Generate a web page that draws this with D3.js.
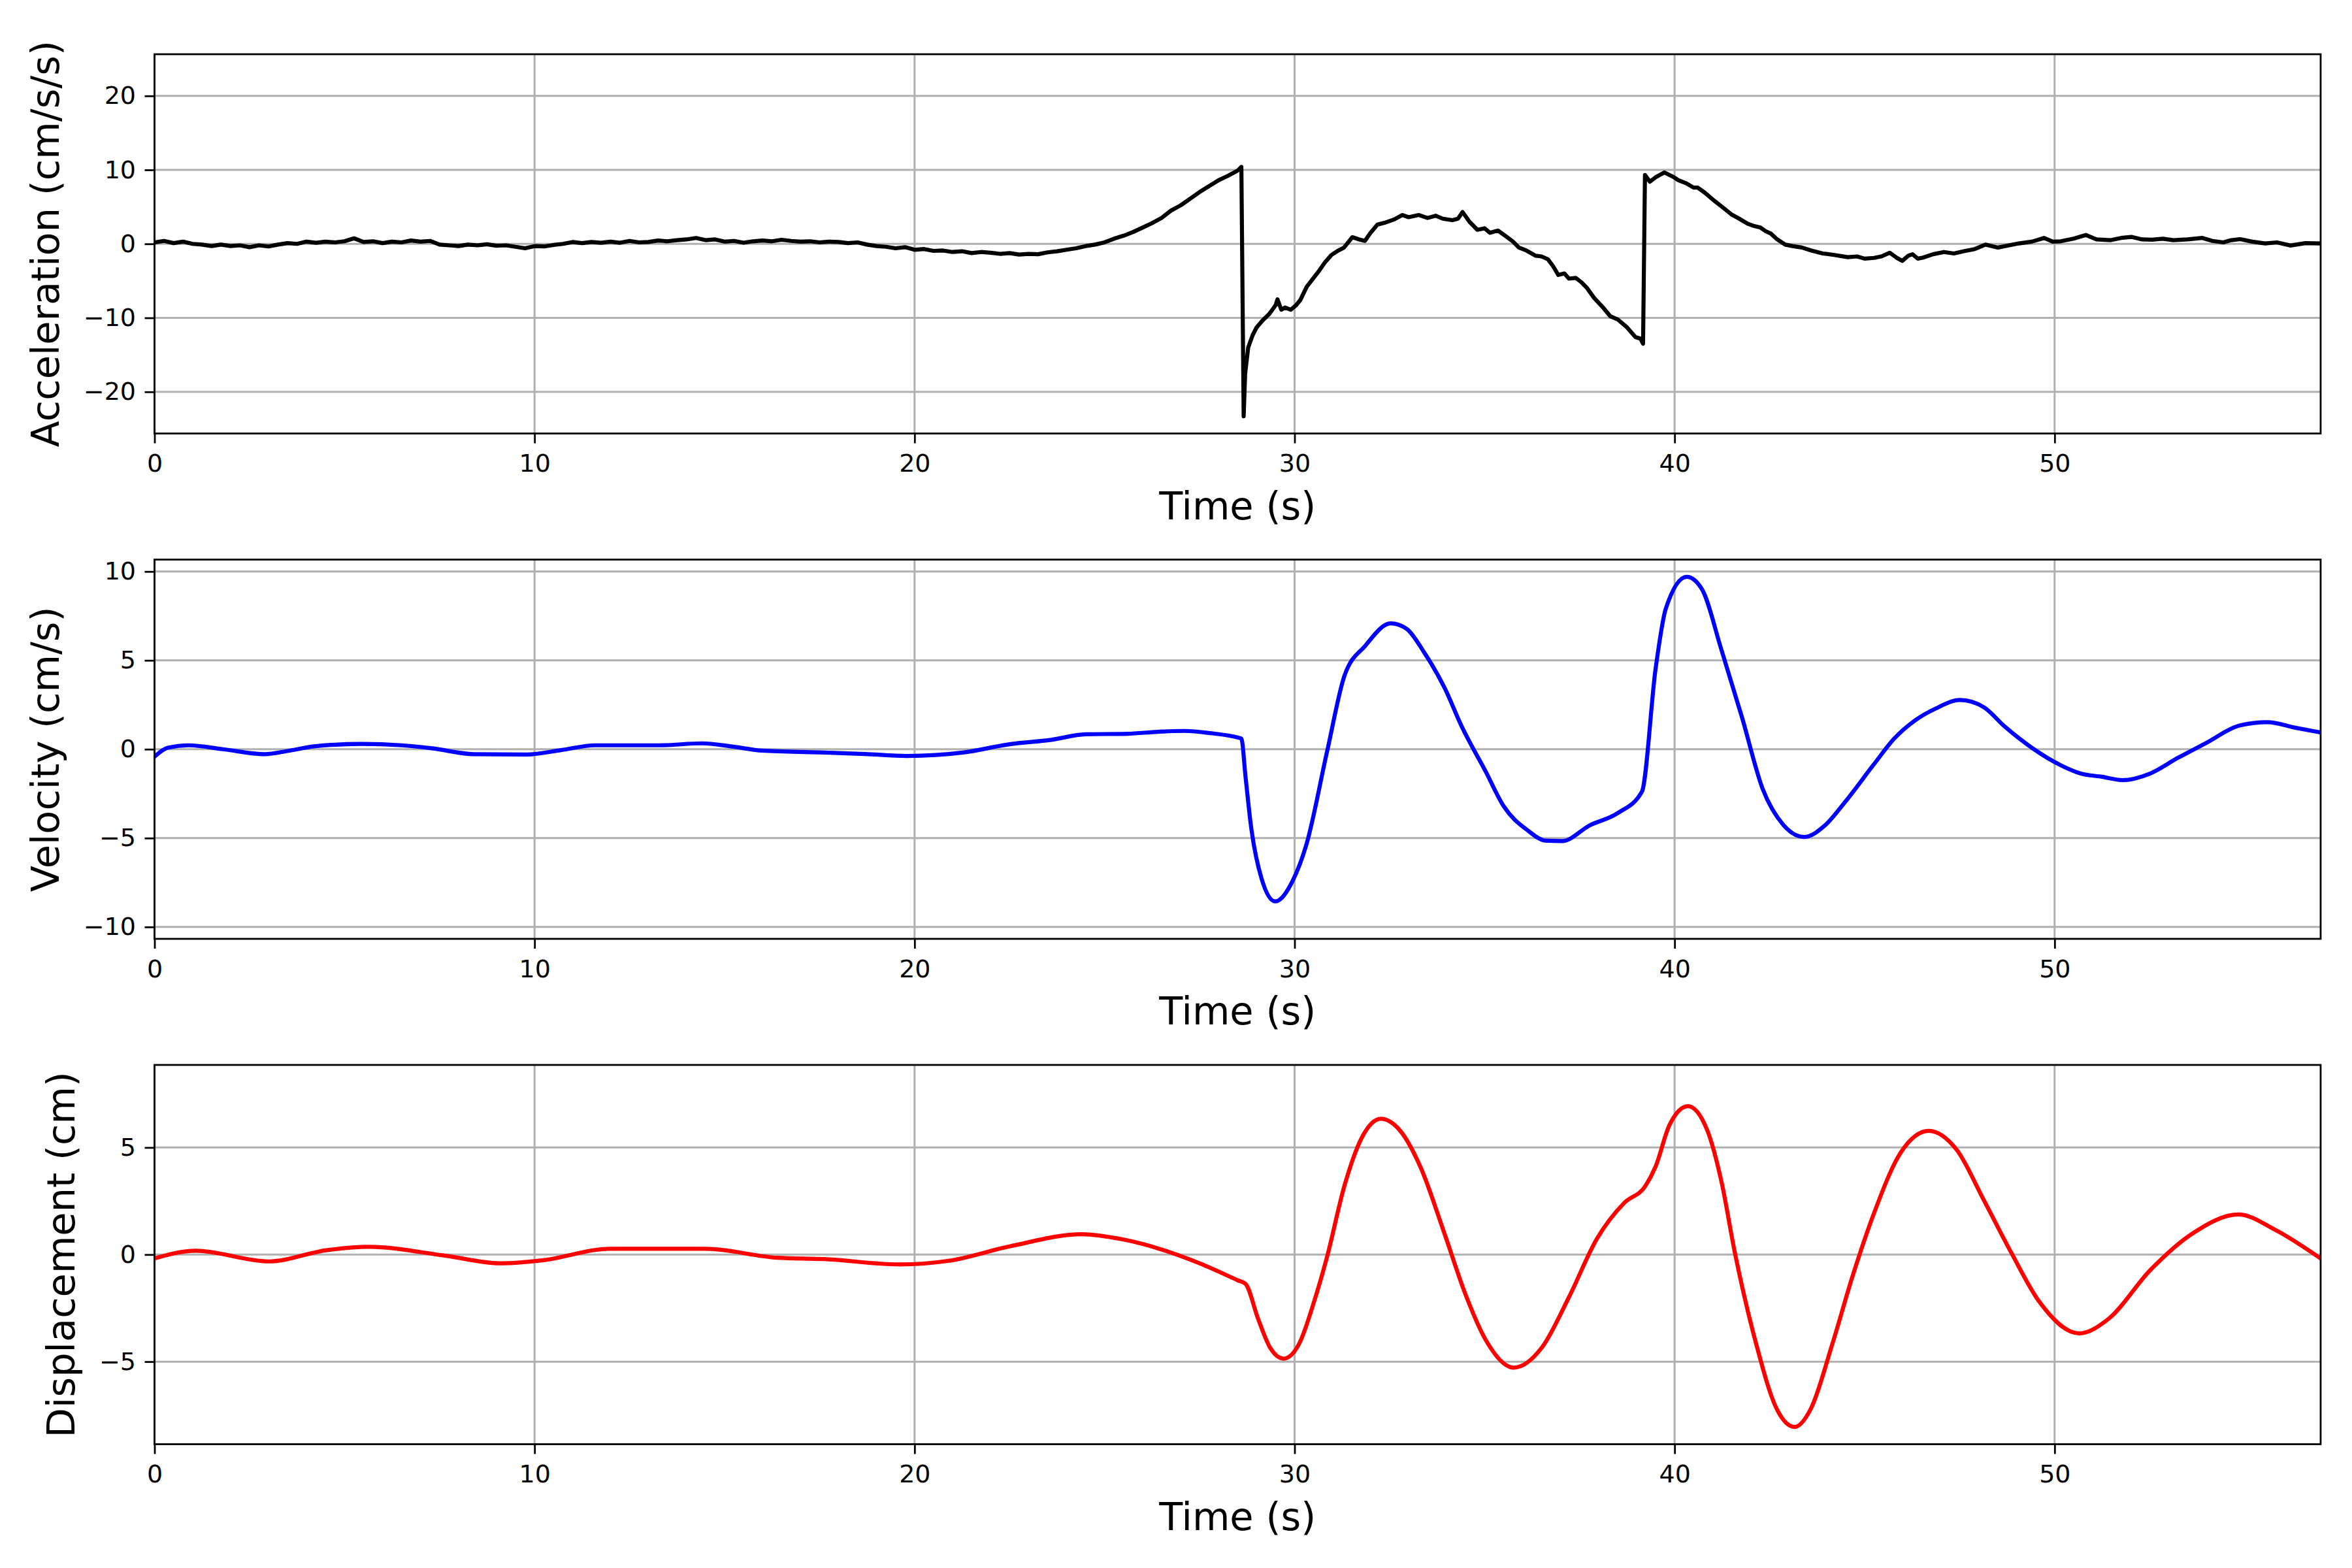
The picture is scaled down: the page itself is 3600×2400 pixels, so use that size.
<!DOCTYPE html>
<html>
<head>
<meta charset="utf-8">
<script src="https://cdn.jsdelivr.net/npm/d3@7"></script>
<style>
  body { margin: 0; background: #ffffff; }
  text { font-family: "DejaVu Sans", sans-serif; }
</style>
</head>
<body>
<script>
// time ticks shared by the three panels
var timeTicks = [0, 10, 20, 30, 40, 50];
var timeMax = 57;

// acceleration record [t, cm/s/s]
var accelPts = [
  [0.00,0.2],[0.25,0.4],[0.50,0.1],[0.75,0.3],[1.00,0.0],[1.25,-0.1],[1.50,-0.3],[1.75,-0.1],
  [2.00,-0.3],[2.25,-0.2],[2.50,-0.45],[2.75,-0.2],[3.00,-0.35],[3.25,-0.1],[3.50,0.1],[3.75,0.0],
  [4.00,0.3],[4.25,0.15],[4.50,0.3],[4.75,0.2],[5.00,0.35],[5.25,0.75],[5.50,0.25],[5.75,0.35],
  [6.00,0.1],[6.25,0.3],[6.50,0.2],[6.75,0.45],[7.00,0.3],[7.25,0.4],[7.50,-0.1],[7.75,-0.2],
  [8.00,-0.3],[8.25,-0.1],[8.50,-0.2],[8.75,-0.05],[9.00,-0.25],[9.25,-0.2],[9.50,-0.4],[9.75,-0.6],
  [10.00,-0.3],[10.25,-0.35],[10.50,-0.15],[10.75,0.0],[11.00,0.25],[11.25,0.1],[11.50,0.25],[11.75,0.15],
  [12.00,0.3],[12.25,0.15],[12.50,0.4],[12.75,0.2],[13.00,0.25],[13.25,0.45],[13.50,0.35],[13.75,0.5],
  [14.00,0.6],[14.25,0.8],[14.50,0.5],[14.75,0.6],[15.00,0.3],[15.25,0.4],[15.50,0.15],[15.75,0.35],
  [16.00,0.45],[16.25,0.35],[16.50,0.55],[16.75,0.4],[17.00,0.3],[17.25,0.35],[17.50,0.2],[17.75,0.3],
  [18.00,0.25],[18.25,0.1],[18.50,0.2],[18.75,-0.1],[19.00,-0.3],[19.25,-0.4],[19.50,-0.6],[19.75,-0.45],
  [20.00,-0.8],[20.25,-0.7],[20.50,-0.95],[20.75,-0.9],[21.00,-1.1],[21.25,-1.0],[21.50,-1.25],[21.75,-1.1],
  [22.00,-1.2],[22.25,-1.35],[22.50,-1.25],[22.75,-1.45],[23.00,-1.35],[23.25,-1.4],[23.50,-1.15],[23.75,-1.0],
  [24.00,-0.8],[24.25,-0.6],[24.50,-0.3],[24.75,-0.1],[25.00,0.2],[25.25,0.7],[25.50,1.1],[25.75,1.6],
  [26.00,2.2],[26.25,2.8],[26.50,3.5],[26.75,4.5],[27.00,5.2],[27.25,6.1],[27.50,7.0],[27.75,7.8],
  [28.00,8.6],[28.25,9.2],[28.50,9.9],[28.60,10.4],[28.66,-23.3],[28.70,-17.5],[28.78,-14.0],[28.90,-12.3],
  [29.00,-11.3],[29.15,-10.4],[29.33,-9.5],[29.50,-8.3],[29.55,-7.5],[29.65,-8.9],[29.75,-8.6],[29.90,-8.9],
  [30.04,-8.3],[30.15,-7.6],[30.32,-5.8],[30.50,-4.6],[30.65,-3.6],[30.80,-2.5],[30.97,-1.5],[31.15,-0.9],
  [31.30,-0.5],[31.52,0.9],[31.70,0.6],[31.85,0.4],[32.00,1.5],[32.18,2.6],[32.40,2.9],[32.62,3.3],
  [32.84,3.9],[33.00,3.6],[33.27,3.9],[33.50,3.5],[33.71,3.8],[33.90,3.4],[34.15,3.2],[34.30,3.4],
  [34.42,4.3],[34.60,3.0],[34.81,1.9],[35.00,2.1],[35.14,1.5],[35.35,1.8],[35.57,1.0],[35.75,0.3],
  [35.90,-0.5],[36.10,-0.9],[36.34,-1.6],[36.50,-1.7],[36.67,-2.1],[36.80,-3.0],[36.94,-4.2],[37.10,-4.0],
  [37.22,-4.7],[37.40,-4.6],[37.55,-5.2],[37.70,-6.0],[37.88,-7.3],[38.10,-8.5],[38.31,-9.8],[38.50,-10.2],
  [38.75,-11.3],[38.97,-12.6],[39.10,-12.8],[39.17,-13.5],[39.22,9.3],[39.35,8.4],[39.50,9.0],[39.73,9.65],
  [39.95,9.1],[40.10,8.6],[40.30,8.2],[40.50,7.6],[40.61,7.6],[40.80,6.9],[41.05,5.8],[41.25,5.0],
  [41.49,4.0],[41.70,3.4],[41.93,2.7],[42.10,2.4],[42.26,2.2],[42.40,1.7],[42.53,1.4],[42.70,0.6],
  [42.91,-0.1],[43.10,-0.3],[43.35,-0.5],[43.60,-0.9],[43.90,-1.3],[44.20,-1.5],[44.56,-1.8],[44.80,-1.7],
  [45.00,-2.0],[45.25,-1.9],[45.44,-1.7],[45.66,-1.2],[45.85,-1.9],[45.99,-2.3],[46.15,-1.6],[46.26,-1.4],
  [46.40,-2.0],[46.54,-1.85],[46.80,-1.4],[47.09,-1.1],[47.35,-1.3],[47.63,-0.97],[47.90,-0.7],[48.18,-0.1],
  [48.35,-0.3],[48.51,-0.5],[48.80,-0.2],[49.06,0.06],[49.40,0.3],[49.72,0.8],[49.95,0.3],[50.16,0.35],
  [50.50,0.7],[50.82,1.2],[51.10,0.6],[51.48,0.5],[51.75,0.8],[52.02,0.94],[52.30,0.6],[52.57,0.56],
  [52.85,0.7],[53.12,0.5],[53.50,0.6],[53.89,0.8],[54.15,0.4],[54.44,0.2],[54.65,0.5],[54.88,0.64],
  [55.20,0.3],[55.54,0.06],[55.85,0.2],[56.20,-0.23],[56.60,0.1],[57.00,0.06]
];

// velocity [t, cm/s]
var velPts = [
  [0,-0.42],[0.35,0.08],[0.9,0.22],[1.8,0.0],[2.9,-0.28],[3.5,-0.1],[4.2,0.16],[5.45,0.3],
  [6.5,0.22],[7.3,0.05],[8.4,-0.28],[9.8,-0.3],[10.7,-0.05],[11.6,0.22],[13.3,0.22],[14.4,0.33],
  [15.2,0.15],[16.0,-0.08],[17.5,-0.18],[18.7,-0.27],[19.8,-0.38],[21.3,-0.18],[22.5,0.28],[23.6,0.53],
  [24.5,0.84],[25.6,0.87],[26.4,0.98],[27.1,1.03],[27.8,0.9],[28.5,0.66],[28.6,0.6],[28.71,-1.57],
  [28.85,-4.28],[29.13,-7.27],[29.49,-8.56],[29.95,-7.4],[30.31,-5.37],[30.86,-0.08],[31.31,4.12],[31.86,5.82],
  [32.53,7.08],[32.95,6.77],[33.4,5.48],[33.95,3.44],[34.4,1.27],[35.04,-1.3],[35.5,-3.2],[36.13,-4.56],
  [36.59,-5.14],[37.04,-5.17],[37.77,-4.28],[38.5,-3.6],[39.14,-2.39],[39.5,4.53],[39.77,7.92],[40.32,9.7],
  [40.72,9.0],[41.23,5.61],[41.77,1.82],[42.32,-2.25],[42.87,-4.28],[43.41,-4.94],[43.96,-4.28],[44.5,-2.93],
  [45.23,-0.89],[45.78,0.6],[46.32,1.61],[46.87,2.29],[47.51,2.77],[48.14,2.36],[48.69,1.27],[49.42,0.05],
  [50.15,-0.89],[50.69,-1.37],[51.24,-1.55],[51.78,-1.74],[52.51,-1.37],[53.24,-0.49],[53.97,0.33],[54.88,1.34],
  [55.6,1.52],[56.33,1.21],[57.0,0.94]
];

// displacement [t, cm]
var dispPts = [
  [0,-0.18],[1.09,0.18],[3.0,-0.32],[4.55,0.21],[5.64,0.36],[7.64,-0.05],[9.1,-0.41],[10.2,-0.27],
  [12.0,0.27],[14.5,0.27],[16.4,-0.15],[17.6,-0.21],[19.6,-0.46],[20.9,-0.29],[22.5,0.38],[24.4,0.95],
  [25.5,0.7],[27.5,-0.41],[28.5,-1.2],[28.71,-1.37],[29.04,-3.0],[29.36,-4.36],[29.71,-4.86],[30.13,-4.13],
  [30.49,-2.33],[30.86,-0.07],[31.31,3.2],[31.77,5.46],[32.27,6.34],[32.77,5.8],[33.31,4.1],[33.95,0.95],
  [34.5,-1.87],[35.04,-4.02],[35.77,-5.28],[36.5,-4.36],[37.22,-1.99],[37.95,0.72],[38.68,2.42],[39.23,3.2],
  [39.5,4.11],[39.86,6.03],[40.35,6.93],[40.86,5.8],[41.23,3.43],[41.59,0.05],[42.14,-4.13],[42.68,-7.18],
  [43.16,-8.05],[43.59,-7.18],[44.14,-4.24],[44.69,-0.97],[45.23,1.85],[45.96,4.79],[46.69,5.78],[47.42,4.9],
  [48.14,2.53],[48.87,0.05],[49.6,-2.21],[50.65,-3.68],[51.42,-3.0],[52.51,-0.74],[53.6,0.95],[54.84,1.87],
  [55.79,1.17],[57.0,-0.18]
];

var accelTicks = [-20, -10, 0, 10, 20];
var velTicks = [-10, -5, 0, 5, 10];
var dispTicks = [-5, 0, 5];

var W = 3600, H = 2400;
var left = 236.5, right = 3552;
var panelH = 580.5, gap = 193;
var firstTop = 83;

var svg = d3.select("body").append("svg")
  .attr("width", W)
  .attr("height", H);

svg.append("rect")
  .attr("width", W)
  .attr("height", H)
  .attr("fill", "#ffffff");

var x = d3.scaleLinear().domain([0, timeMax]).range([0, right - left]);
var w = right - left;

function drawPanel(i, pts, yTicks, color, curve, label) {
  var top = firstTop + i * (panelH + gap);
  // symmetric limits, 10% past the largest excursion
  var lim = 1.1 * d3.max(pts, function(d) { return Math.abs(d[1]); });
  var y = d3.scaleLinear().domain([-lim, lim]).range([panelH, 0]);

  var g = svg.append("g").attr("transform", "translate(" + left + "," + top + ")");

  // grid
  g.append("g").selectAll("line").data(timeTicks).enter().append("line")
    .attr("x1", function(d) { return x(d); })
    .attr("x2", function(d) { return x(d); })
    .attr("y1", 0).attr("y2", panelH)
    .attr("stroke", "#b0b0b0").attr("stroke-width", 3);
  g.append("g").selectAll("line").data(yTicks).enter().append("line")
    .attr("x1", 0).attr("x2", w)
    .attr("y1", function(d) { return y(d); })
    .attr("y2", function(d) { return y(d); })
    .attr("stroke", "#b0b0b0").attr("stroke-width", 3);

  // clip + data line
  g.append("clipPath").attr("id", "clip" + i)
    .append("rect").attr("width", w).attr("height", panelH);

  var line = d3.line()
    .x(function(d) { return x(d[0]); })
    .y(function(d) { return y(d[1]); })
    .curve(curve);

  g.append("path")
    .datum(pts)
    .attr("clip-path", "url(#clip" + i + ")")
    .attr("d", line)
    .attr("fill", "none")
    .attr("stroke", color)
    .attr("stroke-width", 6.2)
    .attr("stroke-linejoin", "round")
    .attr("stroke-linecap", "square");

  // axes
  var xa = g.append("g")
    .attr("transform", "translate(0," + panelH + ")")
    .call(d3.axisBottom(x).tickValues(timeTicks).tickFormat(d3.format("d")).tickSize(15).tickPadding(17));
  var ya = g.append("g")
    .call(d3.axisLeft(y).tickValues(yTicks).tickFormat(d3.format("d")).tickSize(15).tickPadding(13.5));
  [xa, ya].forEach(function(a) {
    a.select(".domain").remove();
    a.selectAll(".tick line").attr("stroke", "#000").attr("stroke-width", 2.8);
    a.selectAll(".tick text")
      .attr("fill", "#000")
      .style("font-size", "38px")
      .style("font-family", "DejaVu Sans");
  });

  // frame
  g.append("rect")
    .attr("width", w).attr("height", panelH)
    .attr("fill", "none")
    .attr("stroke", "#000")
    .attr("stroke-width", 2.8);

  g.append("text")
    .attr("x", w / 2)
    .attr("y", panelH + 131)
    .attr("text-anchor", "middle")
    .style("font-size", "59px")
    .text("Time (s)");

  var bb = ya.node().getBBox();
  g.append("text")
    .attr("transform", "translate(" + (bb.x - 38) + "," + (panelH / 2) + ") rotate(-90)")
    .attr("text-anchor", "middle")
    .style("font-size", "59px")
    .text(label);
}

drawPanel(0, accelPts, accelTicks, "#000000", d3.curveLinear, "Acceleration (cm/s/s)");
drawPanel(1, velPts, velTicks, "#0000ff", d3.curveMonotoneX, "Velocity (cm/s)");
drawPanel(2, dispPts, dispTicks, "#ff0000", d3.curveMonotoneX, "Displacement (cm)");
</script>
</body>
</html>
